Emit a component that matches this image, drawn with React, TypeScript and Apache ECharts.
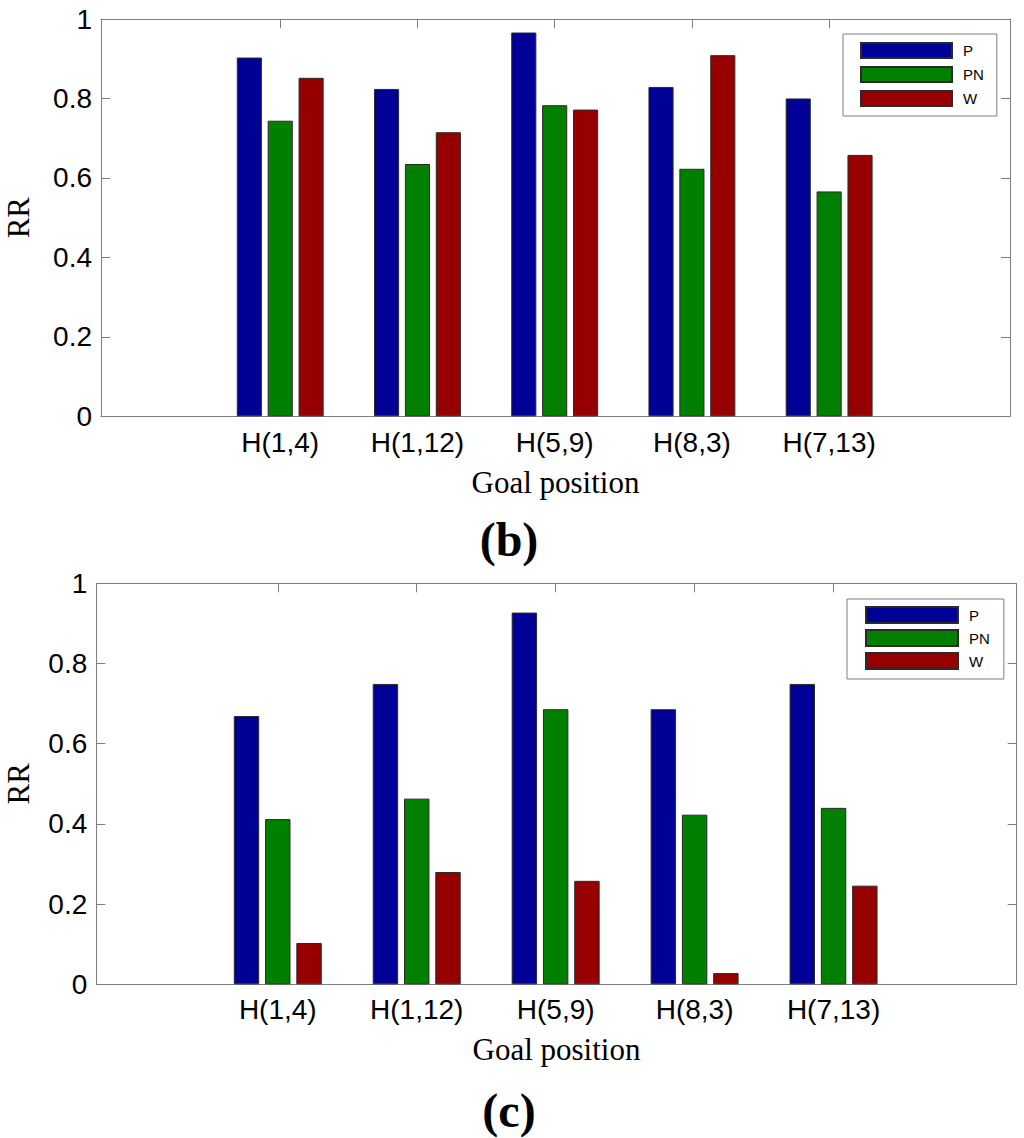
import React, { useEffect, useRef } from "react";
import * as echarts from "echarts";

const categories = ["H(1,4)", "H(1,12)", "H(5,9)", "H(8,3)", "H(7,13)"];
const seriesNames = ["P", "PN", "W"];
const seriesColors = ["#000096", "#007F00", "#960000"];

// panel (b)
const bP = [0.903, 0.824, 0.966, 0.829, 0.8];
const bPN = [0.744, 0.635, 0.783, 0.623, 0.566];
const bW = [0.852, 0.715, 0.772, 0.909, 0.658];

// panel (c)
const cP = [0.669, 0.749, 0.927, 0.686, 0.749];
const cPN = [0.412, 0.463, 0.686, 0.423, 0.44];
const cW = [0.103, 0.28, 0.258, 0.028, 0.246];

const yTicks = [0, 0.2, 0.4, 0.6, 0.8, 1];
const xMin = -0.306;
const xMax = 6.318;

const FRAME = "#7f7f7f";
const SANS = "'Liberation Sans', Arial, Helvetica, sans-serif";
const SERIF = "'Liberation Serif', 'Times New Roman', serif";

export default function App() {
  const ref = useRef<HTMLDivElement>(null);

  useEffect(() => {
    if (!ref.current) return;
    const chart = echarts.init(ref.current, undefined, { renderer: "svg" });

    const catPos = categories.map((_, i) => i + 1);

    const grids = [
      { left: 101, top: 19, width: 909, height: 397.3 },
      { left: 96.3, top: 583.3, width: 920.4, height: 401 },
    ];

    const xAxes: any[] = [];
    const yAxes: any[] = [];
    grids.forEach((_, gi) => {
      xAxes.push({
        type: "value",
        gridIndex: gi,
        position: "bottom",
        min: xMin,
        max: xMax,
        name: "Goal position",
        nameLocation: "middle",
        nameGap: gi === 0 ? 51 : 50,
        nameTextStyle: { fontFamily: SERIF, fontSize: 31, color: "#000" },
        axisLine: { show: true, onZero: false, lineStyle: { color: FRAME, width: 1 } },
        axisTick: {
          show: true,
          inside: true,
          length: 9,
          customValues: catPos,
          lineStyle: { color: FRAME },
        },
        axisLabel: {
          show: true,
          customValues: catPos,
          margin: gi === 0 ? 12 : 11,
          fontFamily: SANS,
          fontSize: 28,
          color: "#000",
          formatter: (v: number) => categories[Math.round(v) - 1] ?? "",
        },
        splitLine: { show: false },
      });
      xAxes.push({
        type: "value",
        gridIndex: gi,
        position: "top",
        min: xMin,
        max: xMax,
        axisLine: { show: true, onZero: false, lineStyle: { color: FRAME, width: 1 } },
        axisTick: {
          show: true,
          inside: true,
          length: 9,
          customValues: catPos,
          lineStyle: { color: FRAME },
        },
        axisLabel: { show: false },
        splitLine: { show: false },
      });
      yAxes.push({
        type: "value",
        gridIndex: gi,
        position: "left",
        min: 0,
        max: 1,
        interval: 0.2,
        name: "RR",
        nameLocation: "middle",
        nameGap: gi === 0 ? 67 : 62,
        nameTextStyle: { fontFamily: SERIF, fontSize: 31, color: "#000" },
        axisLine: { show: true, onZero: false, lineStyle: { color: FRAME, width: 1 } },
        axisTick: { show: true, inside: true, length: 9, lineStyle: { color: FRAME } },
        axisLabel: {
          show: true,
          margin: 9,
          fontFamily: SANS,
          fontSize: 28,
          color: "#000",
          formatter: (v: number) => String(Math.round(v * 10) / 10),
        },
        splitLine: { show: false },
      });
      yAxes.push({
        type: "value",
        gridIndex: gi,
        position: "right",
        min: 0,
        max: 1,
        interval: 0.2,
        axisLine: { show: true, onZero: false, lineStyle: { color: FRAME, width: 1 } },
        axisTick: { show: true, inside: true, length: 9, lineStyle: { color: FRAME } },
        axisLabel: { show: false },
        splitLine: { show: false },
      });
    });

    const panelData = [
      [bP, bPN, bW],
      [cP, cPN, cW],
    ];

    const series: any[] = [];
    panelData.forEach((sets, gi) => {
      sets.forEach((vals, si) => {
        series.push({
          type: "bar",
          name: seriesNames[si],
          xAxisIndex: gi * 2,
          yAxisIndex: gi * 2,
          barWidth: "18.3%",
          barGap: "23%",
          itemStyle: {
            color: seriesColors[si],
            borderColor: "#2a2a2a",
            borderWidth: 1,
          },
          data: vals.map((v, i) => [catPos[i], v]),
        });
      });
    });

    const legendCommon = {
      orient: "vertical",
      data: seriesNames,
      icon: "rect",
      selectedMode: false,
      itemHeight: 15,
      itemGap: 7,
      borderColor: FRAME,
      borderWidth: 1,
      borderRadius: 0,
      backgroundColor: "#fff",
      textStyle: {
        fontFamily: SANS,
        fontSize: 15,
        lineHeight: 15,
        color: "#000",
        padding: [0, 0, 0, 6],
      },
    };

    chart.setOption({
      animation: false,
      backgroundColor: "#fff",
      grid: grids.map((g) => ({ ...g, containLabel: false, outerBoundsMode: "none" })),
      xAxis: xAxes,
      yAxis: yAxes,
      series,
      legend: [
        { ...legendCommon, left: 843, top: 34, itemWidth: 91, padding: [8, 13, 9, 17] },
        { ...legendCommon, left: 847, top: 599, itemWidth: 92, itemHeight: 16, itemGap: 5, padding: [7, 14, 9, 18] },
      ],
      graphic: [
        {
          type: "text",
          x: 509,
          y: 539,
          style: {
            text: "(b)",
            font: `bold 48px ${SERIF}`,
            fill: "#000",
            textAlign: "center",
            textVerticalAlign: "middle",
          },
        },
        {
          type: "text",
          x: 509,
          y: 1110,
          style: {
            text: "(c)",
            font: `bold 48px ${SERIF}`,
            fill: "#000",
            textAlign: "center",
            textVerticalAlign: "middle",
          },
        },
      ],
    });

    return () => chart.dispose();
  }, []);

  return (
    <div
      ref={ref}
      style={{ position: "absolute", left: 0, top: 0, width: 1024, height: 1138 }}
    />
  );
}
